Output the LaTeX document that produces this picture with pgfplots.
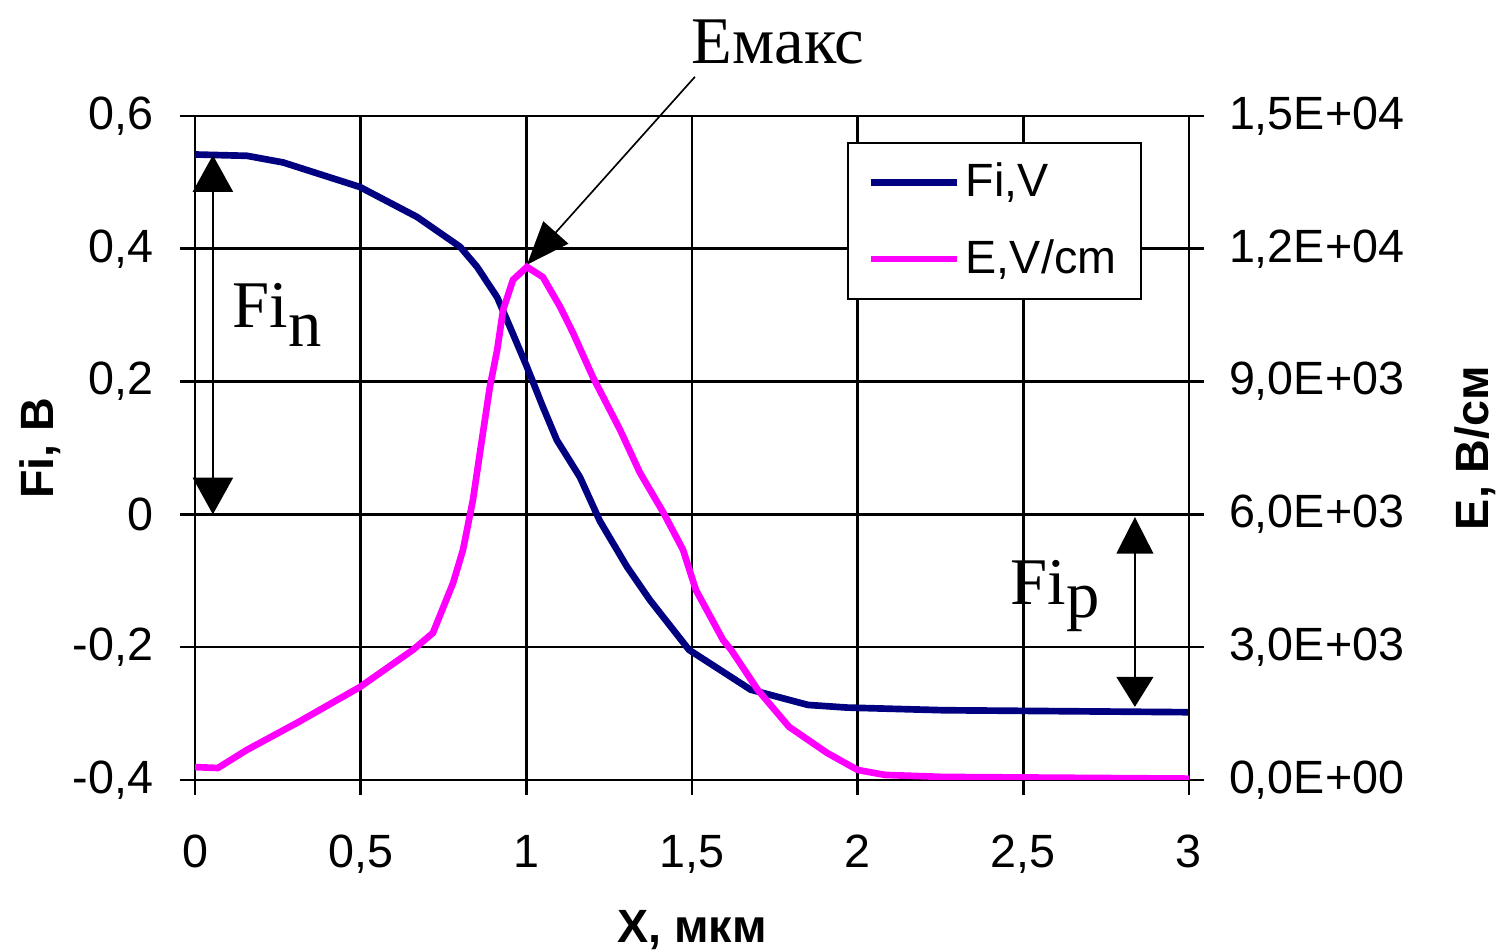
\documentclass[border=0pt]{standalone}
\usepackage{fontspec}
\setmainfont{Liberation Sans}
\newfontfamily\tnr{Liberation Serif}
\usepackage{pgfplots}
\pgfplotsset{compat=1.18}
\usetikzlibrary{arrows.meta}
\definecolor{finavy}{RGB}{0,0,128}
\definecolor{emag}{RGB}{255,0,255}
\newcommand\tfont{\fontsize{14}{16}\selectfont}
\newcommand\bigserif{\tnr\fontsize{20}{22}\selectfont}

\pgfplotsset{
  base/.style={width=298.2pt, height=199.2pt, scale only axis,
    xmin=0, xmax=3,
    tick align=outside, major tick length=4.5pt,
    every tick/.style={black, line width=0.8pt},
    tick label style={font=\tfont},
    axis line style={black, line width=0.8pt}},
}

\begin{document}
\begin{tikzpicture}
\begin{axis}[base,
    ymin=-0.4, ymax=0.6,
    axis x line*=bottom, axis y line*=left,
    xtick={0,0.5,1,1.5,2,2.5,3},
    xticklabels={0,{0,5},1,{1,5},2,{2,5},3},
    ytick={-0.4,-0.2,0,0.2,0.4,0.6},
    yticklabels={{-0,4},{-0,2},0,{0,2},{0,4},{0,6}},
    grid=major, grid style={black, line width=0.8pt},
    xticklabel style={yshift=-8.5pt},
    yticklabel style={xshift=-4.5pt},
    xlabel={X, мкм}, ylabel={Fi, В},
    every axis x label/.style={at={(axis description cs:0.5,-0.226)}, anchor=center, inner sep=0pt, font=\tfont\bfseries},
    every axis y label/.style={at={(axis description cs:-0.156,0.5)}, rotate=90, anchor=center, inner sep=0pt, font=\tfont\bfseries},
    clip=false]
  % Fi, V
  \addplot[finavy, line width=2pt] coordinates {
    (0,0.542) (0.157,0.540) (0.266,0.530) (0.498,0.493) (0.670,0.448)
    (0.800,0.403) (0.851,0.373) (0.912,0.327) (0.951,0.282) (1.002,0.222)
    (1.050,0.162) (1.092,0.112) (1.162,0.056) (1.222,-0.010) (1.304,-0.079)
    (1.373,-0.129) (1.491,-0.204) (1.677,-0.264) (1.850,-0.287) (1.968,-0.291)
    (2.258,-0.295) (3.0,-0.298)
  };
  % annotations
  \draw[line width=0.7pt, {Triangle[width=12pt,length=11pt]}-{Triangle[width=12pt,length=11pt]}]
    (axis cs:0.054,0.541) -- (axis cs:0.054,0);
  \draw[line width=0.7pt, {Triangle[width=11pt,length=11pt]}-{Triangle[width=11pt,length=9pt]}]
    (axis cs:2.837,-0.004) -- (axis cs:2.837,-0.29);
  \draw[line width=0.5pt, -{Triangle[width=10pt,length=13pt]}]
    (axis cs:1.509,0.659) -- (axis cs:1.002,0.376);
  \node[font=\bigserif] at (axis cs:1.76,0.711) {Емакс};
  \node[anchor=base west, inner sep=0pt, font=\bigserif] at (axis cs:0.112,0.281) {Fi\raisebox{-5.5pt}{n}};
  \node[anchor=base west, inner sep=0pt, font=\bigserif] at (axis cs:2.46,-0.136) {Fi\raisebox{-4pt}{p}};
  \path (axis cs:-0.5886,-0.659) rectangle (axis cs:3.936,0.7747);
\end{axis}

\begin{axis}[base,
    ymin=0, ymax=15000,
    axis x line=none, axis y line*=right,
    ytick={0,3000,6000,9000,12000,15000},
    yticklabels={{0,0E+00},{3,0E+03},{6,0E+03},{9,0E+03},{1,2E+04},{1,5E+04}},
    scaled y ticks=false,
    yticklabel style={xshift=4pt},
    ylabel={E, В/см},
    every axis y label/.style={at={(axis description cs:1.288,0.5)}, rotate=90, anchor=center, inner sep=0pt, font=\tfont\bfseries},
    legend style={at={(axis description cs:0.953,0.961)}, anchor=north east,
      draw=black, line width=0.6pt, fill=white, font=\tfont,
      inner xsep=6pt, inner ysep=4.5pt, row sep=8.4pt, nodes={inner sep=1.5pt}},
    legend cell align=left,
    legend image code/.code={\draw[#1] (0pt,0pt) -- (26pt,0pt);}]
  \addlegendimage{finavy, line width=2pt}
  \addlegendentry{Fi,V}
  % E, V/cm
  \addplot[emag, line width=2pt] coordinates {
    (0,290) (0.069,270) (0.157,680) (0.308,1290) (0.498,2100)
    (0.658,2940) (0.718,3320) (0.779,4450) (0.809,5200) (0.839,6330)
    (0.860,7390) (0.890,8880) (0.912,9710) (0.930,10620) (0.960,11300)
    (1.002,11590) (1.050,11360) (1.102,10690) (1.141,10100) (1.201,9100)
    (1.283,7910) (1.343,6940) (1.413,6050) (1.473,5200) (1.512,4290)
    (1.594,3160) (1.618,2940) (1.699,2030) (1.793,1200) (1.908,610)
    (2.0,226) (2.083,113) (2.258,68) (3.0,30)
  };
  \addlegendentry{E,V/cm}
\end{axis}
\end{tikzpicture}
\end{document}
